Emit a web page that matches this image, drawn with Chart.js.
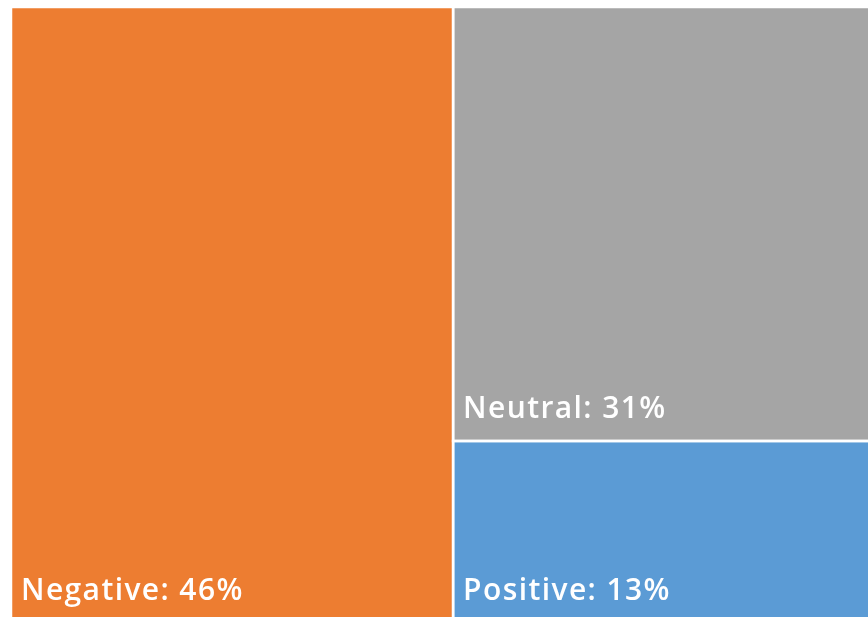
<!DOCTYPE html>
<html>
<head>
<meta charset="utf-8">
<script src="https://cdn.jsdelivr.net/npm/chart.js@4/dist/chart.umd.min.js"></script>
<style>
    html, body { margin: 0; padding: 0; background: #fff; overflow: hidden; width: 868px; height: 617px; }
    #wrap { position: absolute; left: 0; top: 0; width: 876px; height: 623px; }
</style>
</head>
<body>
<div id="wrap"><canvas id="tree"></canvas></div>
<script>
const categories = ['Negative', 'Neutral', 'Positive'];
const shares = [46, 31, 13];
const tileColors = ['#ED7D31', '#A5A5A5', '#5B9BD5'];

// first tile takes a full-height column, the rest are stacked in the second column
function layoutTiles(values) {
    const total = values.reduce((a, b) => a + b, 0);
    const rest = total - values[0];
    const tiles = [{x0: 0, x1: values[0], y0: 0, y1: 100}];
    let top = 100;
    for (let i = 1; i < values.length; i++) {
        const h = values[i] / rest * 100;
        tiles.push({x0: values[0], x1: total, y0: top - h, y1: top});
        top -= h;
    }
    return {tiles, total};
}

const layout = layoutTiles(shares);

// each tile is a flat line along its top edge, filled down to its bottom value
const datasets = layout.tiles.map((t, i) => ({
    label: categories[i],
    data: [{x: t.x0, y: t.y1}, {x: t.x1, y: t.y1}],
    backgroundColor: tileColors[i],
    borderWidth: 0,
    pointRadius: 0,
    fill: {value: t.y0}
}));

const tileLabels = {
    id: 'tileLabels',
    afterDatasetsDraw(chart) {
        const ctx = chart.ctx;
        const xs = chart.scales.x, ys = chart.scales.y;
        ctx.save();
        // white gutters between tiles
        ctx.strokeStyle = '#fff';
        ctx.lineWidth = 2.5;
        layout.tiles.forEach(t => {
            ctx.strokeRect(xs.getPixelForValue(t.x0), ys.getPixelForValue(t.y1),
                xs.getPixelForValue(t.x1) - xs.getPixelForValue(t.x0),
                ys.getPixelForValue(t.y0) - ys.getPixelForValue(t.y1));
        });
        ctx.fillStyle = '#fff';
        ctx.font = '600 30px "Open Sans"';
        ctx.letterSpacing = '1.4px';
        ctx.textBaseline = 'alphabetic';
        layout.tiles.forEach((t, i) => {
            ctx.fillText(categories[i] + ': ' + shares[i] + '%',
                xs.getPixelForValue(t.x0) + 10, ys.getPixelForValue(t.y0) - 23);
        });
        ctx.restore();
    }
};

new Chart(document.getElementById('tree'), {
    type: 'line',
    data: {datasets},
    options: {
        responsive: true,
        maintainAspectRatio: false,
        animation: false,
        layout: {padding: {top: 7, left: 11, right: 0, bottom: 0}},
        scales: {
            x: {type: 'linear', display: false, min: 0, max: layout.total},
            y: {display: false, min: 0, max: 100}
        },
        plugins: {
            legend: {display: false},
            tooltip: {enabled: false}
        }
    },
    plugins: [tileLabels]
});
</script>
</body>
</html>
